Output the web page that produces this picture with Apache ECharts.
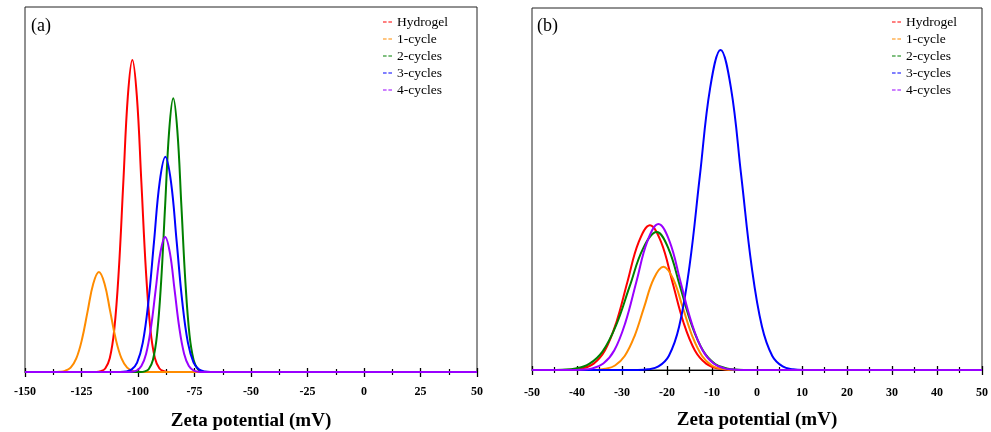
<!DOCTYPE html>
<html>
<head>
<meta charset="utf-8">
<script src="https://cdn.jsdelivr.net/npm/echarts@6/dist/echarts.min.js"></script>
<style>
  html, body { margin: 0; padding: 0; background: #fff; }
  #chart { width: 991px; height: 432px; }
</style>
</head>
<body>
<div id="chart"></div>
<script>
// series names and colours
const seriesNames = ['Hydrogel', '1-cycle', '2-cycles', '3-cycles', '4-cycles'];
const seriesColors = ['#ff0000', '#ff8c00', '#008000', '#0000ff', '#9900ff'];

// axis ranges / ticks: [min, max, interval]
const xTicksA = [-150, 50, 25];
const xTicksB = [-50, 50, 10];

// panel (a) curves (x in mV, y relative counts)
const hydrogelA_x = [-150, -118.5, -116.5, -114.5, -112.5, -110.5, -108.5, -106.5, -104.5, -102.5, -100.5, -98.5, -96.5, -94.5, -92.5, -90.5, -88.5, -86.5, 50];
const hydrogelA_y = [0, 0, 0.19, 0.95, 3.75, 11.6, 27.8, 51.9, 75.5, 85.5, 75.5, 51.9, 27.8, 11.6, 3.75, 0.95, 0.19, 0, 0];
const cycle1A_x = [-150, -137.3, -134.8, -132.3, -129.8, -127.3, -124.8, -122.3, -119.8, -117.3, -114.8, -112.3, -109.8, -107.3, -104.8, -102.3, -99.8, -97.3, 50];
const cycle1A_y = [0, 0, 0.06, 0.3, 1.2, 3.71, 8.9, 16.6, 24.2, 27.4, 24.2, 16.6, 8.9, 3.71, 1.2, 0.3, 0.06, 0, 0];
const cycle2A_x = [-150, -98.8, -97.0, -95.2, -93.4, -91.6, -89.8, -88.0, -86.2, -84.4, -82.6, -80.8, -79.0, -77.2, -75.4, -73.6, -71.8, -70.0, 50];
const cycle2A_y = [0, 0, 0.17, 0.83, 3.29, 10.1, 24.4, 45.5, 66.2, 75, 66.2, 45.5, 24.4, 10.1, 3.29, 0.83, 0.17, 0, 0];
const cycle3A_x = [-150, -107.9, -105.4, -102.9, -100.4, -97.9, -95.4, -92.9, -90.4, -87.9, -85.4, -82.9, -80.4, -77.9, -75.4, -72.9, -70.4, -67.9, 50];
const cycle3A_y = [0, 0, 0.13, 0.65, 2.59, 7.98, 19.2, 35.8, 52.1, 59, 52.1, 35.8, 19.2, 7.98, 2.59, 0.65, 0.13, 0, 0];
const cycle4A_x = [-150, -104.8, -102.7, -100.6, -98.5, -96.4, -94.3, -92.2, -90.1, -88.0, -85.9, -83.8, -81.7, -79.6, -77.5, -75.4, -73.3, -71.2, 50];
const cycle4A_y = [0, 0, 0.08, 0.41, 1.62, 5.0, 12.0, 22.4, 32.7, 37, 32.7, 22.4, 12.0, 5.0, 1.62, 0.41, 0.08, 0, 0];

// panel (b) curves
const hydrogelB_x = [-50, -43.8, -41.3, -38.8, -36.3, -33.8, -31.3, -28.8, -26.3, -23.8, -21.3, -18.8, -16.3, -13.8, -11.3, -8.8, -6.3, -3.8, 50];
const hydrogelB_y = [0, 0, 0.09, 0.44, 1.76, 5.41, 13.0, 24.3, 35.3, 40, 35.3, 24.3, 13.0, 5.41, 1.76, 0.44, 0.09, 0, 0];
const cycle1B_x = [-50, -38.0, -35.85, -33.7, -31.55, -29.4, -27.25, -25.1, -22.95, -20.8, -18.65, -16.5, -14.35, -12.2, -10.05, -7.9, -5.75, -3.6, 50];
const cycle1B_y = [0, 0, 0.06, 0.32, 1.25, 3.86, 9.25, 17.3, 25.2, 28.5, 25.2, 17.3, 9.25, 3.86, 1.25, 0.32, 0.06, 0, 0];
const cycle2B_x = [-50, -46.3, -43.3, -40.3, -37.3, -34.3, -31.3, -28.3, -25.3, -22.3, -19.7, -17.1, -14.5, -11.9, -9.3, -6.7, -4.1, -1.5, 50];
const cycle2B_y = [0, 0, 0.08, 0.42, 1.67, 5.16, 12.4, 23.1, 33.6, 38.1, 33.6, 23.1, 12.4, 5.16, 1.67, 0.42, 0.08, 0, 0];
const cycle3B_x = [-50, -26.5, -24.2, -21.9, -19.6, -17.3, -15.0, -12.7, -10.4, -8.1, -5.8, -3.5, -1.2, 1.1, 3.4, 5.7, 8.0, 10.3, 50];
const cycle3B_y = [0, 0, 0.19, 0.98, 3.88, 12.0, 28.7, 53.6, 78.0, 88.4, 78.0, 53.6, 28.7, 12.0, 3.88, 0.98, 0.19, 0, 0];
const cycle4B_x = [-50, -41.5, -39.05, -36.6, -34.15, -31.7, -29.25, -26.8, -24.35, -21.9, -19.45, -17.0, -14.55, -12.1, -9.65, -7.2, -4.75, -2.3, 50];
const cycle4B_y = [0, 0, 0.09, 0.45, 1.77, 5.45, 13.1, 24.4, 35.6, 40.3, 35.6, 24.4, 13.1, 5.45, 1.77, 0.45, 0.09, 0, 0];

const curvesA = [[hydrogelA_x, hydrogelA_y], [cycle1A_x, cycle1A_y], [cycle2A_x, cycle2A_y], [cycle3A_x, cycle3A_y], [cycle4A_x, cycle4A_y]];
const curvesB = [[hydrogelB_x, hydrogelB_y], [cycle1B_x, cycle1B_y], [cycle2B_x, cycle2B_y], [cycle3B_x, cycle3B_y], [cycle4B_x, cycle4B_y]];

const serif = 'Liberation Serif';

function zip(xs, ys) {
    return xs.map((x, i) => [x, ys[i]]);
}

// main axis: outward ticks + labels; overlay axis: inward ticks only (so ticks cross the line)
function xAxes(gridIndex, ticks, labelMargin, nameGap) {
    const base = {
        gridIndex: gridIndex,
        type: 'value',
        min: ticks[0],
        max: ticks[1],
        interval: ticks[2],
        position: 'bottom',
        splitLine: { show: false },
        minorSplitLine: { show: false }
    };
    return [
        Object.assign({}, base, {
            name: 'Zeta potential (mV)',
            nameLocation: 'middle',
            nameGap: nameGap,
            nameTextStyle: { fontFamily: serif, fontSize: 19, fontWeight: 'bold', color: '#000' },
            axisLine: { lineStyle: { color: '#000', width: 1 } },
            axisTick: { inside: false, length: 5, lineStyle: { color: '#000', width: 1.3 } },
            minorTick: { show: true, splitNumber: 2, length: 3, lineStyle: { color: '#000', width: 1.2 } },
            axisLabel: { margin: labelMargin, fontFamily: serif, fontSize: 12, fontWeight: 'bold', color: '#000' }
        }),
        Object.assign({}, base, {
            axisLine: { show: false },
            axisTick: { inside: true, length: 4, lineStyle: { color: '#000', width: 1.3 } },
            minorTick: { show: true, splitNumber: 2, length: 3, lineStyle: { color: '#000', width: 1.2 } },
            axisLabel: { show: false }
        })
    ];
}

function yAxis(gridIndex) {
    return {
        gridIndex: gridIndex,
        type: 'value',
        min: 0,
        max: 100,
        show: false
    };
}

function buildSeries(curves, xAxisIndex, yAxisIndex) {
    return curves.map((c, i) => ({
        name: seriesNames[i],
        type: 'line',
        xAxisIndex: xAxisIndex,
        yAxisIndex: yAxisIndex,
        data: zip(c[0], c[1]),
        smooth: 0.4,
        showSymbol: false,
        symbol: 'none',
        lineStyle: { width: 2, color: seriesColors[i] },
        itemStyle: { color: seriesColors[i] },
        z: 3 + i
    }));
}

function legend(left) {
    return {
        data: seriesNames,
        orient: 'vertical',
        left: left,
        top: 15,
        padding: 0,
        itemWidth: 9,
        itemHeight: 2,
        itemGap: 3,
        icon: 'path://M0,0H4V1H0ZM6,0H10V1H6Z',
        textStyle: { fontFamily: serif, fontSize: 13.5, color: '#000', lineHeight: 14 },
        selectedMode: false
    };
}

const chart = echarts.init(document.getElementById('chart'), null, { renderer: 'canvas' });

const option = {
    backgroundColor: '#fff',
    animation: false,
    color: seriesColors,
    title: [
        { text: '(a)', left: 31, top: 17, padding: 0, textStyle: { fontFamily: serif, fontSize: 18, fontWeight: 'normal', color: '#000' } },
        { text: '(b)', left: 537, top: 17, padding: 0, textStyle: { fontFamily: serif, fontSize: 18, fontWeight: 'normal', color: '#000' } }
    ],
    legend: [legend(383), legend(892)],
    grid: [
        { left: 25, top: 7, width: 452, height: 365, show: true, borderColor: '#222', borderWidth: 1, backgroundColor: 'transparent', containLabel: false, outerBoundsMode: 'none' },
        { left: 532, top: 8, width: 450, height: 362, show: true, borderColor: '#222', borderWidth: 1, backgroundColor: 'transparent', containLabel: false, outerBoundsMode: 'none' }
    ],
    xAxis: xAxes(0, xTicksA, 14, 40).concat(xAxes(1, xTicksB, 17, 41)),
    yAxis: [yAxis(0), yAxis(1)],
    series: buildSeries(curvesA, 0, 0).concat(buildSeries(curvesB, 2, 1))
};

chart.setOption(option);

window.addEventListener('resize', function () {
    chart.resize();
});
</script>
</body>
</html>
